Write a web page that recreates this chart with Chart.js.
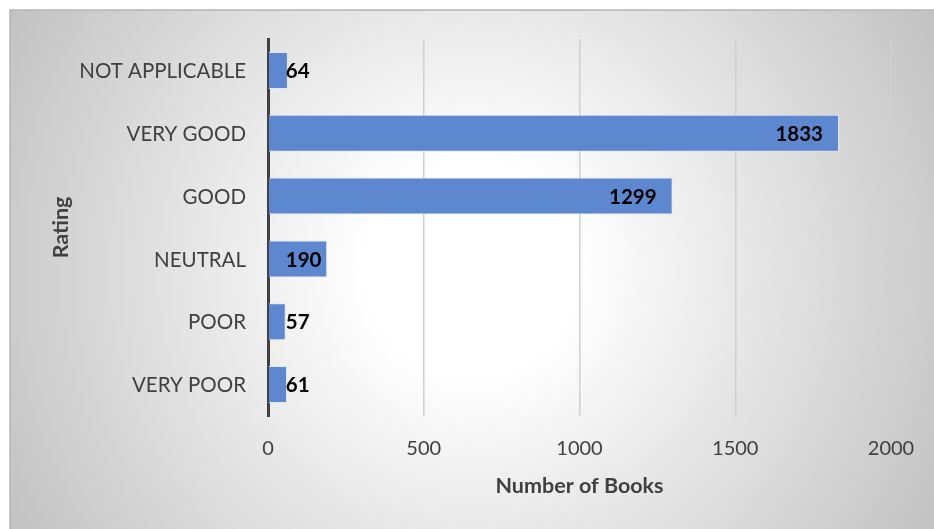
<!DOCTYPE html>
<html>
<head>
<meta charset="utf-8">
<script src="https://cdn.jsdelivr.net/npm/chart.js@4.4.1/dist/chart.umd.min.js"></script>
<style>
  html, body { margin: 0; padding: 0; background: #ffffff; }
  #wrap { width: 934px; height: 529px; position: relative; }
</style>
</head>
<body>
<div id="wrap"><canvas id="chart" width="934" height="529"></canvas></div>
<script>
// Ratings and book counts
const categories = ['NOT APPLICABLE', 'VERY GOOD', 'GOOD', 'NEUTRAL', 'POOR', 'VERY POOR'];
const bookCounts = [64, 1833, 1299, 190, 57, 61];
const xTicks = [0, 500, 1000, 1500, 2000];

const FONT = 'Lato, "Open Sans", sans-serif';
const TEXT = '#404040';

// Panel background: radial grey-to-white fill with a thin frame
const panelBackground = {
  id: 'panelBackground',
  beforeDraw(chart) {
    const ctx = chart.ctx;
    const W = chart.width, H = chart.height;
    ctx.save();
    ctx.fillStyle = '#ffffff';
    ctx.fillRect(0, 0, W, H);
    const x0 = 10, y0 = 10;
    const cx = (x0 + W) / 2, cy = (y0 + H) / 2;
    const r = Math.hypot(W - cx, H - cy);
    const g = ctx.createRadialGradient(cx, cy, 0, cx, cy, r);
    g.addColorStop(0, '#ffffff');
    g.addColorStop(0.2, '#ffffff');
    g.addColorStop(1, '#c2c2c2');
    ctx.fillStyle = g;
    ctx.fillRect(x0, y0, W - x0, H - y0);
    ctx.strokeStyle = '#b5b5b5';
    ctx.lineWidth = 1.5;
    ctx.beginPath();
    ctx.moveTo(x0, H);
    ctx.lineTo(x0, y0);
    ctx.lineTo(W, y0);
    ctx.stroke();
    ctx.restore();
  }
};

// Value labels: inside the bar end, but never closer than a fixed gap to the axis
const valueLabels = {
  id: 'valueLabels',
  afterDatasetsDraw(chart) {
    const ctx = chart.ctx;
    const meta = chart.getDatasetMeta(0);
    const data = chart.data.datasets[0].data;
    ctx.save();
    ctx.font = 'bold 20.5px ' + FONT;
    ctx.fillStyle = '#000000';
    ctx.textBaseline = 'middle';
    ctx.textAlign = 'left';
    meta.data.forEach((bar, i) => {
      const text = String(data[i]);
      const w = ctx.measureText(text).width;
      const x = Math.max(bar.x - 16 - w, bar.base + 17);
      ctx.fillText(text, x, bar.y + 1);
    });
    ctx.restore();
  }
};

new Chart(document.getElementById('chart'), {
  type: 'bar',
  data: {
    labels: categories,
    datasets: [{
      data: bookCounts,
      backgroundColor: '#5d87cf',
      borderColor: 'rgba(220,230,245,0.9)',
      borderWidth: 1,
      barPercentage: 0.59,
      categoryPercentage: 1
    }]
  },
  options: {
    indexAxis: 'y',
    responsive: false,
    animation: false,
    events: [],
    layout: { padding: { top: 39, right: 43, left: 0, bottom: 0 } },
    plugins: {
      legend: { display: false },
      tooltip: { enabled: false }
    },
    scales: {
      x: {
        min: 0,
        max: 2000,
        afterBuildTicks(scale) { scale.ticks = xTicks.map(v => ({ value: v })); },
        afterFit(scale) {
          scale.height = 113;
          scale.paddingLeft = 0;
          scale.paddingRight = 0;
        },
        grid: { color: '#d0d0d0', lineWidth: 1.5, drawTicks: false },
        border: { display: false },
        ticks: {
          color: TEXT,
          font: { family: FONT, size: 20 },
          padding: 21,
          maxRotation: 0,
          callback: (v) => String(v)
        },
        title: {
          display: true,
          text: 'Number of Books',
          color: TEXT,
          font: { family: FONT, size: 21.5, weight: 'bold' },
          padding: { top: 0, bottom: 30 }
        }
      },
      y: {
        afterFit(scale) { scale.width = 268; },
        grid: { display: false, drawTicks: false },
        border: { display: true, color: '#404040', width: 3 },
        ticks: {
          color: TEXT,
          font: { family: FONT, size: 20.5 },
          padding: 22,
          labelOffset: 1
        },
        title: {
          display: true,
          text: 'Rating',
          color: TEXT,
          font: { family: FONT, size: 21.5, weight: 'bold' },
          padding: { top: 48, bottom: 0 }
        }
      }
    }
  },
  plugins: [panelBackground, valueLabels]
});
</script>
</body>
</html>
